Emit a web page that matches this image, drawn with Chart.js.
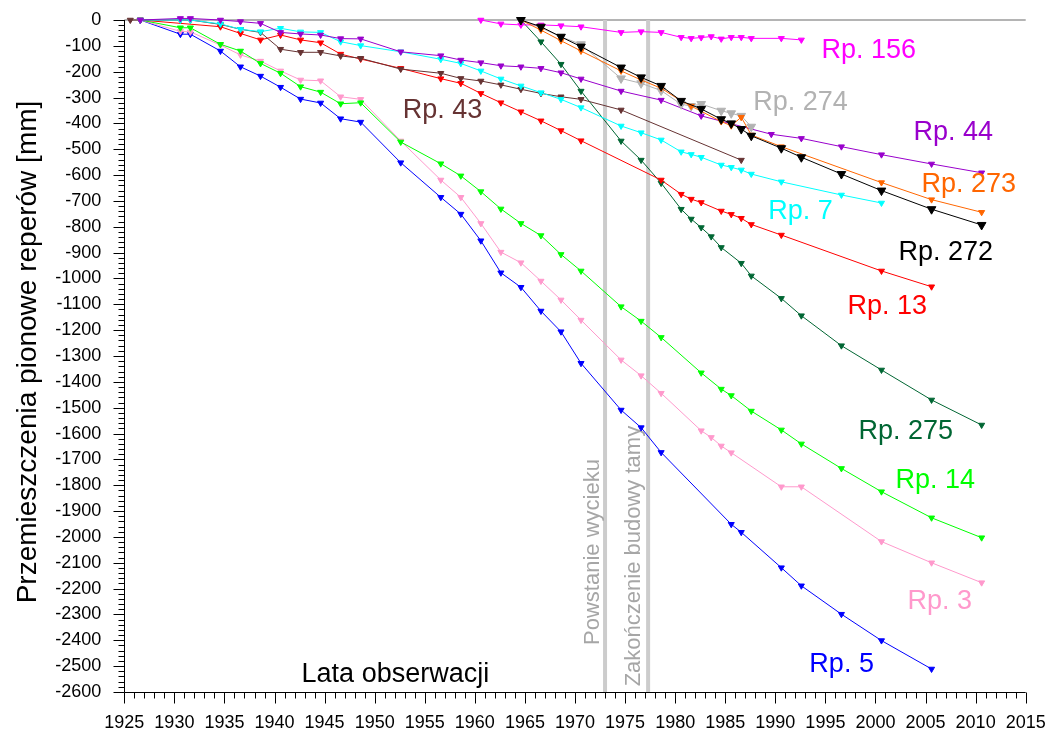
<!DOCTYPE html>
<html>
<head>
<meta charset="utf-8">
<script src="https://cdn.jsdelivr.net/npm/chart.js@4/dist/chart.umd.min.js"></script>
<style>
  html, body { margin: 0; padding: 0; background: #fff; }
  #wrap { width: 1055px; height: 736px; }
</style>
</head>
<body>
<div id="wrap"><canvas id="chart" width="1055" height="736"></canvas></div>
<script>
// ===== DATA (lata obserwacji / przemieszczenia w mm) =====

const rp5Years = [1926.6, 1930.6, 1931.6, 1934.6, 1936.6, 1938.6, 1940.6, 1942.6, 1944.6, 1946.6, 1948.6, 1952.6, 1956.6, 1958.6, 1960.6, 1962.6, 1964.6, 1966.6, 1968.6, 1970.6, 1974.6, 1976.6, 1978.6, 1985.6, 1986.6, 1990.6, 1992.6, 1996.6, 2000.6, 2005.6];
const rp5Values = [0, -55, -55, -120, -181, -217, -260, -306, -321, -382, -395, -552, -686, -751, -854, -978, -1034, -1126, -1206, -1328, -1509, -1577, -1673, -1951, -1982, -2119, -2189, -2299, -2401, -2511];

const rp3Years = [1926.6, 1930.6, 1931.6, 1934.6, 1936.6, 1938.6, 1940.6, 1942.6, 1944.6, 1946.6, 1948.6, 1952.6, 1956.6, 1958.6, 1960.6, 1962.6, 1964.6, 1966.6, 1968.6, 1970.6, 1974.6, 1976.6, 1978.6, 1982.6, 1983.6, 1984.6, 1985.6, 1990.6, 1992.6, 2000.6, 2005.6, 2010.6];
const rp3Values = [0, -44, -46, -97, -135, -159, -197, -232, -235, -297, -307, -468, -619, -686, -787, -898, -939, -1010, -1083, -1161, -1315, -1376, -1444, -1589, -1615, -1648, -1674, -1806, -1806, -2018, -2100, -2177];

const rp14Years = [1926.6, 1930.6, 1931.6, 1934.6, 1936.6, 1938.6, 1940.6, 1942.6, 1944.6, 1946.6, 1948.6, 1952.6, 1956.6, 1958.6, 1960.6, 1962.6, 1964.6, 1966.6, 1968.6, 1970.6, 1974.6, 1976.6, 1978.6, 1982.6, 1984.6, 1985.6, 1987.6, 1990.6, 1992.6, 1996.6, 2000.6, 2005.6, 2010.6];
const rp14Values = [0, -30, -30, -94, -120, -168, -206, -258, -279, -324, -320, -472, -556, -603, -664, -731, -787, -834, -907, -971, -1109, -1165, -1228, -1365, -1428, -1453, -1513, -1586, -1640, -1735, -1825, -1926, -2003];

const rp13Years = [1926.6, 1934.6, 1936.6, 1938.6, 1940.6, 1942.6, 1944.6, 1946.6, 1948.6, 1952.6, 1956.6, 1958.6, 1960.6, 1962.6, 1964.6, 1966.6, 1968.6, 1970.6, 1978.6, 1980.6, 1981.6, 1982.6, 1984.6, 1985.6, 1986.6, 1987.6, 1990.6, 2000.6, 2005.6];
const rp13Values = [0, -26, -52, -77, -58, -77, -88, -132, -151, -187, -227, -245, -284, -320, -355, -390, -428, -467, -619, -674, -693, -706, -739, -752, -767, -791, -832, -971, -1032];

const rp43Years = [1925.6, 1926.6, 1930.6, 1931.6, 1934.6, 1936.6, 1938.6, 1940.6, 1942.6, 1944.6, 1946.6, 1948.6, 1952.6, 1956.6, 1958.6, 1960.6, 1962.6, 1964.6, 1966.6, 1968.6, 1970.6, 1974.6, 1986.6];
const rp43Values = [0, 0, 0, 0, -17, -36, -48, -113, -125, -125, -139, -148, -190, -206, -226, -236, -251, -268, -284, -297, -307, -348, -542];

const rp7Years = [1926.6, 1930.6, 1931.6, 1934.6, 1936.6, 1938.6, 1940.6, 1942.6, 1944.6, 1946.6, 1948.6, 1952.6, 1956.6, 1958.6, 1960.6, 1962.6, 1964.6, 1966.6, 1968.6, 1970.6, 1974.6, 1976.6, 1978.6, 1980.6, 1981.6, 1982.6, 1984.6, 1985.6, 1986.6, 1987.6, 1990.6, 1996.6, 2000.6];
const rp7Values = [0, 0, 0, -15, -36, -45, -32, -46, -48, -84, -99, -123, -152, -168, -197, -228, -255, -281, -307, -339, -410, -436, -464, -510, -520, -531, -561, -570, -580, -596, -626, -677, -708];

const rp44Years = [1926.6, 1930.6, 1931.6, 1934.6, 1936.6, 1938.6, 1940.6, 1942.6, 1944.6, 1946.6, 1948.6, 1952.6, 1956.6, 1958.6, 1960.6, 1962.6, 1964.6, 1966.6, 1968.6, 1970.6, 1974.6, 1978.6, 1982.6, 1989.6, 1992.6, 1996.6, 2000.6, 2005.6, 2010.6];
const rp44Values = [0, 6, 6, 0, -6, -13, -48, -54, -58, -72, -73, -123, -138, -155, -165, -177, -181, -187, -204, -228, -275, -310, -371, -442, -458, -490, -521, -557, -591];

const rp156Years = [1960.6, 1962.6, 1964.6, 1966.6, 1968.6, 1970.6, 1974.6, 1976.6, 1978.6, 1980.6, 1981.6, 1982.6, 1983.6, 1984.6, 1985.6, 1986.6, 1987.6, 1990.6, 1992.6];
const rp156Values = [0, -15, -19, -19, -22, -26, -48, -45, -48, -67, -71, -68, -64, -73, -67, -67, -71, -71, -77];

const rp275Years = [1964.6, 1966.6, 1968.6, 1970.6, 1974.6, 1976.6, 1978.6, 1980.6, 1981.6, 1982.6, 1983.6, 1984.6, 1986.6, 1987.6, 1990.6, 1992.6, 1996.6, 2000.6, 2005.6, 2010.6];
const rp275Values = [0, -84, -171, -275, -468, -542, -631, -732, -770, -803, -838, -880, -941, -990, -1077, -1144, -1260, -1354, -1470, -1567];

const rp272Years = [1964.6, 1966.6, 1968.6, 1970.6, 1974.6, 1976.6, 1978.6, 1980.6, 1982.6, 1984.6, 1985.6, 1986.6, 1987.6, 1990.6, 1992.6, 1996.6, 2000.6, 2005.6, 2010.6];
const rp272Values = [0, -26, -65, -103, -184, -222, -255, -313, -344, -384, -400, -422, -448, -496, -531, -596, -660, -732, -793];

const rp273Years = [1964.6, 1966.6, 1968.6, 1970.6, 1974.6, 1976.6, 1978.6, 1980.6, 1981.6, 1984.6, 1985.6, 1986.6, 1987.6, 1990.6, 2000.6, 2005.6, 2010.6];
const rp273Values = [0, -39, -80, -120, -197, -232, -264, -313, -333, -393, -409, -376, -445, -490, -629, -695, -744];

const rp274Years = [1964.6, 1966.6, 1968.6, 1970.6, 1974.6, 1976.6, 1978.6, 1980.6, 1981.6, 1982.6, 1984.6, 1985.6, 1986.6, 1987.6];
const rp274Values = [0, -30, -65, -94, -226, -245, -273, -326, -333, -325, -351, -361, -371, -413];

// zdarzenia (pionowe linie)
const eventYears = [1973, 1977.3];
const eventTexts = ['Powstanie wycieku', 'Zakończenie budowy tamy'];

// opisy serii: tekst, rok, wartość
const seriesNames = ['Rp. 156', 'Rp. 274', 'Rp. 44', 'Rp. 273', 'Rp. 7', 'Rp. 272', 'Rp. 13', 'Rp. 43', 'Rp. 275', 'Rp. 14', 'Rp. 3', 'Rp. 5'];
const labelYears = [1994.6, 1987.8, 2003.8, 2004.6, 1989.3, 2002.3, 1997.2, 1952.8, 1998.3, 2002.0, 2003.2, 1993.4];
const labelValues = [-118, -318, -437, -635, -743, -898, -1110, -350, -1592, -1780, -2250, -2495];

const xTitle = 'Lata obserwacji';
const yTitle = 'Przemieszczenia pionowe reperów [mm]';

// ===== STILI =====
const FONT = "'Liberation Sans', Arial, sans-serif";
const colors = {
    'Rp. 5': '#0000ff',
    'Rp. 3': '#ff99cc',
    'Rp. 14': '#00ff00',
    'Rp. 13': '#ff0000',
    'Rp. 43': '#663333',
    'Rp. 7': '#00ffff',
    'Rp. 44': '#9900cc',
    'Rp. 156': '#ff00ff',
    'Rp. 275': '#006633',
    'Rp. 272': '#000000',
    'Rp. 273': '#ff6600',
    'Rp. 274': '#b2b2b2'
};

function makeSet(name, years, values, big) {
    const c = colors[name];
    return {
        label: name,
        data: years.map((yr, i) => ({ x: yr, y: values[i] })),
        borderColor: c,
        backgroundColor: c,
        borderWidth: 1,
        pointStyle: 'triangle',
        rotation: 180,
        pointRadius: big ? 5 : 3.5,
        pointBorderWidth: 1,
        tension: 0,
        clip: false
    };
}

const datasets = [
    makeSet('Rp. 272', rp272Years, rp272Values, true),
    makeSet('Rp. 273', rp273Years, rp273Values, false),
    makeSet('Rp. 274', rp274Years, rp274Values, true),
    makeSet('Rp. 156', rp156Years, rp156Values, false),
    makeSet('Rp. 44', rp44Years, rp44Values, false),
    makeSet('Rp. 7', rp7Years, rp7Values, false),
    makeSet('Rp. 43', rp43Years, rp43Values, false),
    makeSet('Rp. 13', rp13Years, rp13Values, false),
    makeSet('Rp. 275', rp275Years, rp275Values, false),
    makeSet('Rp. 14', rp14Years, rp14Values, false),
    makeSet('Rp. 3', rp3Years, rp3Values, false),
    makeSet('Rp. 5', rp5Years, rp5Values, false)
];

// ===== PLUGIN: osie, linie zdarzeń, opisy =====
const overlay = {
    id: 'overlay',
    beforeDatasetsDraw(chart) {
        const { ctx, chartArea: a, scales: { x, y } } = chart;
        ctx.save();
        // linia zero
        const y0 = y.getPixelForValue(0);
        ctx.strokeStyle = '#b4b4b4';
        ctx.lineWidth = 2;
        ctx.beginPath();
        ctx.moveTo(a.left, y0);
        ctx.lineTo(a.right, y0);
        ctx.stroke();

        // linie zdarzeń
        ctx.strokeStyle = '#cccccc';
        ctx.lineWidth = 4;
        eventYears.forEach(yr => {
            const px = x.getPixelForValue(yr);
            ctx.beginPath();
            ctx.moveTo(px, a.top);
            ctx.lineTo(px, a.bottom);
            ctx.stroke();
        });

        // teksty pionowe
        ctx.fillStyle = '#a6a6a6';
        ctx.font = '22px ' + FONT;
        ctx.textAlign = 'left';
        ctx.textBaseline = 'alphabetic';
        const offs = [6, 8.5];
        const starts = [-2418, -2578];
        eventTexts.forEach((t, i) => {
            const px = x.getPixelForValue(eventYears[i]) - offs[i];
            const py = y.getPixelForValue(starts[i]);
            ctx.save();
            ctx.translate(px, py);
            ctx.rotate(-Math.PI / 2);
            ctx.fillText(t, 0, 0);
            ctx.restore();
        });
        ctx.restore();
    },
    afterDraw(chart) {
        const { ctx, chartArea: a, scales: { x, y } } = chart;
        ctx.save();
        ctx.strokeStyle = '#000';
        ctx.lineWidth = 1;
        const L = Math.round(a.left) + 0.5;
        const B = Math.round(a.bottom) + 0.5;

        // osie
        ctx.beginPath();
        ctx.moveTo(L, a.top);
        ctx.lineTo(L, B);
        ctx.lineTo(a.right, B);
        ctx.stroke();

        // podziałka X
        ctx.beginPath();
        for (let yr = 1925; yr <= 2015; yr++) {
            const px = Math.round(x.getPixelForValue(yr)) + 0.5;
            const len = yr % 5 === 0 ? 11 : 6;
            ctx.moveTo(px, B);
            ctx.lineTo(px, B + len);
        }
        // podziałka Y
        for (let v = 0; v >= -2600; v -= 20) {
            const py = Math.round(y.getPixelForValue(v)) + 0.5;
            const len = v % 100 === 0 ? 11 : 6;
            ctx.moveTo(L, py);
            ctx.lineTo(L - len, py);
        }
        ctx.stroke();

        // opisy serii
        ctx.font = '27px ' + FONT;
        ctx.textAlign = 'left';
        ctx.textBaseline = 'middle';
        seriesNames.forEach((n, i) => {
            ctx.fillStyle = colors[n];
            ctx.fillText(n, x.getPixelForValue(labelYears[i]), y.getPixelForValue(labelValues[i]));
        });

        // tytuł osi X (wewnątrz wykresu)
        ctx.fillStyle = '#000';
        ctx.font = '27px ' + FONT;
        ctx.fillText(xTitle, x.getPixelForValue(1942.7), y.getPixelForValue(-2532));

        // tytuł osi Y
        ctx.font = '28px ' + FONT;
        ctx.textAlign = 'center';
        ctx.textBaseline = 'alphabetic';
        ctx.translate(36, 352);
        ctx.rotate(-Math.PI / 2);
        ctx.fillText(yTitle, 0, 0);
        ctx.restore();
    }
};

Chart.defaults.font.family = FONT;
Chart.defaults.color = '#000';

// znaczniki podziałki rysuje plugin; tu tylko odstęp etykiet
const hiddenGrid = (len) => ({
    display: true,
    drawOnChartArea: false,
    drawTicks: true,
    tickLength: len,
    tickColor: 'rgba(0,0,0,0)'
});

new Chart(document.getElementById('chart'), {
    type: 'line',
    data: { datasets: datasets },
    plugins: [overlay],
    options: {
        responsive: false,
        animation: false,
        layout: { padding: { left: 0, right: 29.3, top: 20, bottom: 0 } },
        plugins: {
            legend: { display: false },
            tooltip: { enabled: false }
        },
        scales: {
            x: {
                type: 'linear',
                min: 1925,
                max: 2015,
                grid: hiddenGrid(17),
                border: { display: false },
                ticks: {
                    stepSize: 5,
                    padding: 3,
                    autoSkip: false,
                    maxRotation: 0,
                    font: { size: 18 },
                    callback: v => String(v)
                },
                afterFit(s) { s.height = 44; }
            },
            y: {
                type: 'linear',
                min: -2600,
                max: 0,
                grid: hiddenGrid(20),
                border: { display: false },
                ticks: {
                    stepSize: 100,
                    padding: 3,
                    autoSkip: false,
                    font: { size: 18 },
                    callback: v => String(v)
                },
                afterFit(s) { s.width = 124.3; }
            }
        }
    }
});
</script>
</body>
</html>
